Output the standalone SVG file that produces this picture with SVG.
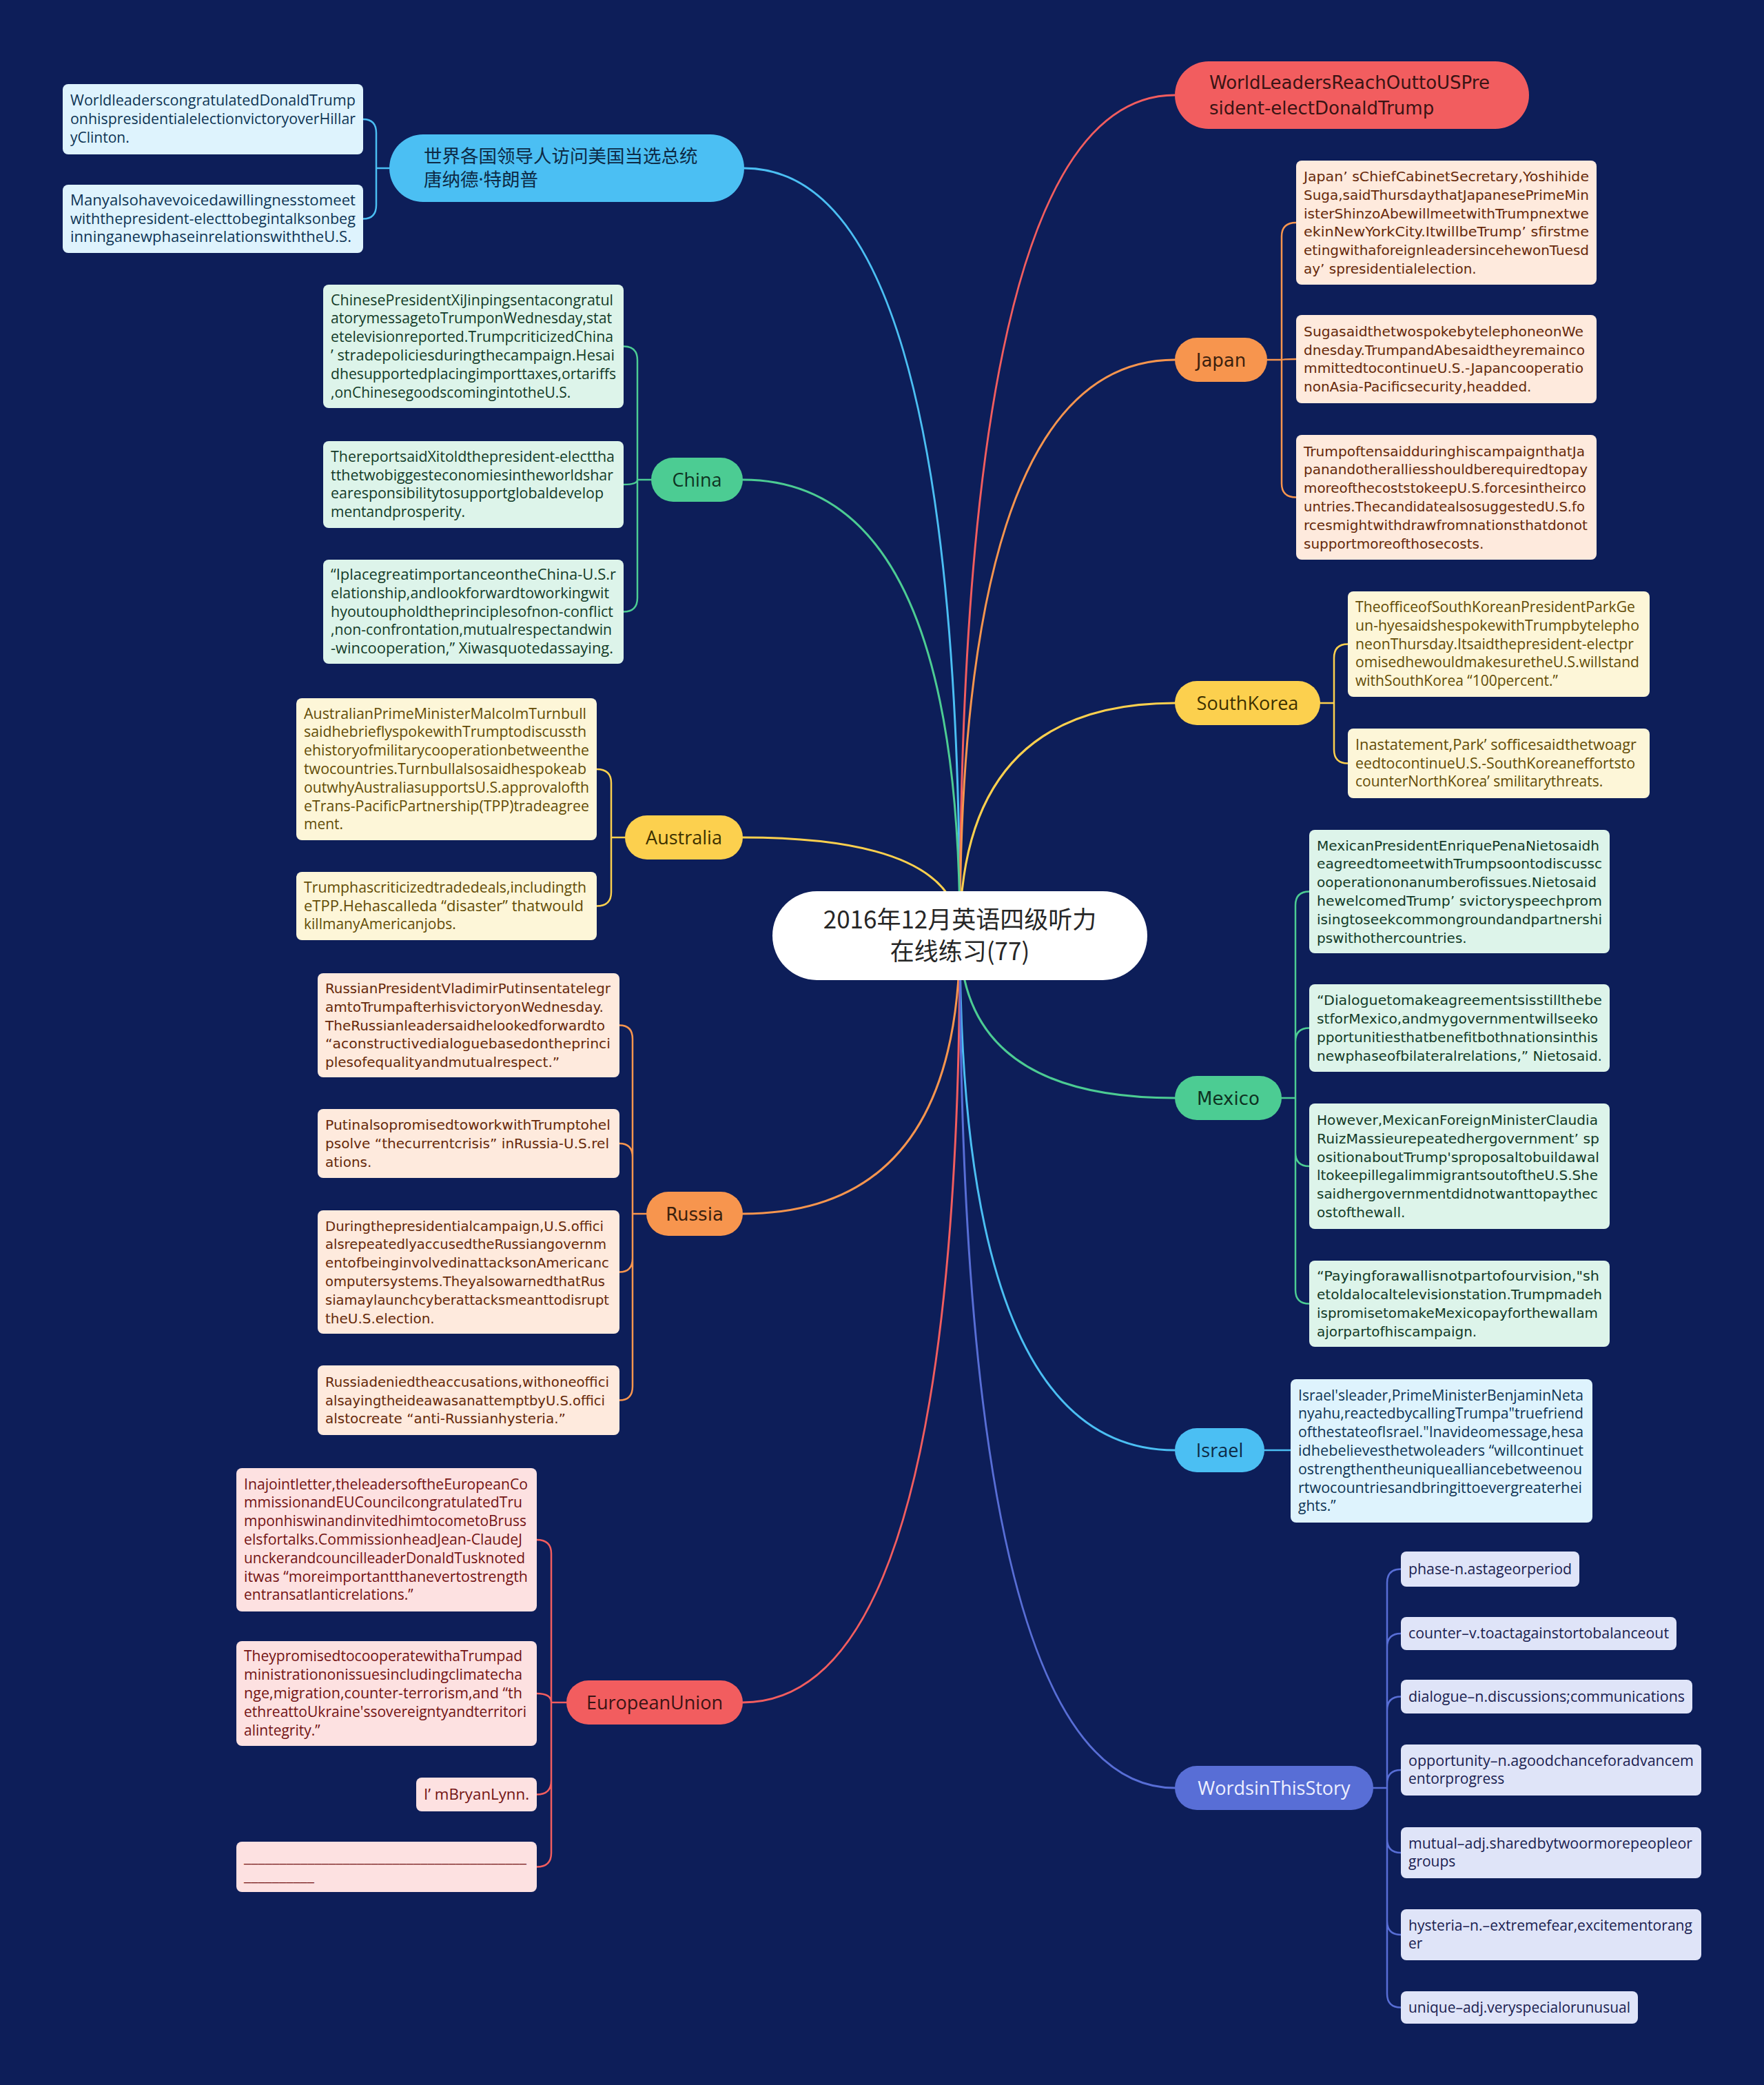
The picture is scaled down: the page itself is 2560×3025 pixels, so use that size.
<svg xmlns="http://www.w3.org/2000/svg" width="2560" height="3025" viewBox="0 0 2560 3025">
<style>
.bg{fill:#0d1e59}
.cn{fill:none;stroke-width:3;stroke-linecap:round}
.lc{fill:none;stroke-width:2.5;stroke-linecap:round;stroke-linejoin:round}
.tw{font-family:"DejaVu Sans","Noto Sans",sans-serif;font-size:20px}
.tn{font-family:"Open Sans","Noto Sans",sans-serif;font-size:21px}
.lw{font-family:"DejaVu Sans","Noto Sans",sans-serif;font-size:26px}
.ln{font-family:"Open Sans","Noto Sans",sans-serif;font-size:27px}
.cjk{font-family:"Noto Sans CJK SC","Noto Sans",sans-serif}
.mid{text-anchor:middle}
.sb{stroke:#4bbff3}.sr{stroke:#f25d5f}.so{stroke:#f7954e}.sg{stroke:#4ccc93}.sy{stroke:#fcd04e}.si{stroke:#586ed6}
.nb{fill:#4bbff3}.nr{fill:#f25d5f}.no{fill:#f7954e}.ng{fill:#4ccc93}.ny{fill:#fcd04e}.ni{fill:#586ed6}
.xb{fill:#0d2a45}.xr{fill:#3a1414}.xo{fill:#3b210e}.xg{fill:#0e3322}.xy{fill:#3d3000}.xi{fill:#eef0ff}
.fb{fill:#def3fd}.fg{fill:#ddf4ea}.fy{fill:#fdf6d8}.fo{fill:#feeadd}.fr{fill:#fde1e1}.fi{fill:#dfe4f8}
.cb{fill:#0e3555}.cg{fill:#133b28}.cy{fill:#634c06}.co{fill:#66290a}.cr{fill:#731313}.ci{fill:#1a2150}
</style>
<rect class="bg" x="0" y="0" width="2560" height="3025"/>

<g id="connectors">
<path class="cn sb" d="M1393 1357 Q1393 244 1080 244"/>
<path class="cn sr" d="M1393 1357 Q1393 138 1705 138"/>
<path class="cn so" d="M1393 1357 Q1393 522 1705 522"/>
<path class="cn sg" d="M1393 1357 Q1393 696 1078 696"/>
<path class="cn sy" d="M1393 1357 Q1393 1020 1705 1020"/>
<path class="cn sy" d="M1393 1357 Q1393 1215 1078 1215"/>
<path class="cn sg" d="M1393 1357 Q1393 1593 1705 1593"/>
<path class="cn so" d="M1393 1357 Q1393 1761 1078 1761"/>
<path class="cn sb" d="M1393 1357 Q1393 2104 1705 2104"/>
<path class="cn sr" d="M1393 1357 Q1393 2470 1078 2470"/>
<path class="cn si" d="M1393 1357 Q1393 2594 1705 2594"/>

<path class="lc sb" d="M565 244 H546 M546 244 V193 Q546 173 527 173 M546 244 V297.5 Q546 317.5 527 317.5"/>
<path class="lc sg" d="M945 696 H925 M925 696 V522.5 Q925 502.5 905 502.5 M925 696 Q925 703 905 703 M925 696 V867.5 Q925 887.5 905 887.5"/>
<path class="lc sy" d="M907 1215 H887 M887 1215 V1136 Q887 1116 866 1116 M887 1215 V1294.5 Q887 1314.5 866 1314.5"/>
<path class="lc so" d="M938 1761 H918 M918 1761 V1507.5 Q918 1487.5 899 1487.5 M918 1761 V1679 Q918 1659 899 1659 M918 1761 V1825.5 Q918 1845.5 899 1845.5 M918 1761 V2011.5 Q918 2031.5 899 2031.5"/>
<path class="lc sr" d="M822 2470 H800 M800 2470 V2254 Q800 2234 779 2234 M800 2470 Q800 2457 779 2457 M800 2470 V2583.5 Q800 2603.5 779 2603.5 M800 2470 V2688.5 Q800 2708.5 779 2708.5"/>
<path class="lc so" d="M1839 522 H1860 M1860 522 V343 Q1860 323 1881 323 M1860 522 Q1860 521 1881 521 M1860 522 V701.5 Q1860 721.5 1881 721.5"/>
<path class="lc sy" d="M1916 1020 H1936 M1936 1020 V954.5 Q1936 934.5 1956 934.5 M1936 1020 V1087.5 Q1936 1107.5 1956 1107.5"/>
<path class="lc sg" d="M1860 1593 H1880 M1880 1593 V1313.5 Q1880 1293.5 1900 1293.5 M1880 1593 V1511.5 Q1880 1491.5 1900 1491.5 M1880 1593 V1672 Q1880 1692 1900 1692 M1880 1593 V1871.5 Q1880 1891.5 1900 1891.5"/>
<path class="lc sb" d="M1835 2104 H1873"/>
<path class="lc si" d="M1993 2594 H2013 M2013 2594 V2296.5 Q2013 2276.5 2033 2276.5 M2013 2594 V2390 Q2013 2370 2033 2370 M2013 2594 V2481.5 Q2013 2461.5 2033 2461.5 M2013 2594 V2588 Q2013 2568 2033 2568 M2013 2594 V2668 Q2013 2688 2033 2688 M2013 2594 V2787 Q2013 2807 2033 2807 M2013 2594 V2892.5 Q2013 2912.5 2033 2912.5"/>
</g>

<g id="center">
<rect x="1121" y="1293" width="544" height="129" rx="64.5" fill="#ffffff"/>
<text class="cjk mid" x="1393" y="1347" font-size="35" fill="#262626">2016年12月英语四级听力</text>
<text class="cjk mid" x="1393" y="1393" font-size="35" fill="#262626">在线练习(77)</text>
</g>

<g id="n-world-cn">
<rect class="nb" x="565" y="195" width="515" height="98" rx="49"/>
<text class="cjk xb" x="615" y="236" font-size="26.5">世界各国领导人访问美国当选总统</text>
<text class="cjk xb" x="615" y="270" font-size="26.5">唐纳德<tspan font-family="Noto Sans, sans-serif">·</tspan>特朗普</text>
</g>
<g id="l-world-1">
<rect class="fb" x="91" y="122" width="436" height="102" rx="8"/>
<text class="tn cb" x="102" y="153.2" textLength="414" lengthAdjust="spacingAndGlyphs">WorldleaderscongratulatedDonaldTrump</text>
<text class="tn cb" x="102" y="180" textLength="414" lengthAdjust="spacingAndGlyphs">onhispresidentialelectionvictoryoverHillar</text>
<text class="tn cb" x="102" y="206.8">yClinton.</text>
</g>
<g id="l-world-2">
<rect class="fb" x="91" y="268" width="436" height="99" rx="8"/>
<text class="tn cb" x="102" y="297.7" textLength="414" lengthAdjust="spacingAndGlyphs">Manyalsohavevoicedawillingnesstomeet</text>
<text class="tn cb" x="102" y="324.5" textLength="414" lengthAdjust="spacingAndGlyphs">withthepresident-electtobegintalksonbeg</text>
<text class="tn cb" x="102" y="351.3" textLength="408" lengthAdjust="spacingAndGlyphs">inninganewphaseinrelationswiththeU.S.</text>
</g>

<g id="n-title">
<rect class="nr" x="1705" y="89" width="514" height="98" rx="49"/>
<text class="lw xr" x="1755" y="129">WorldLeadersReachOuttoUSPre</text>
<text class="lw xr" x="1755" y="166">sident-electDonaldTrump</text>
</g>

<g id="n-japan">
<rect class="no" x="1705" y="490" width="134" height="64" rx="32"/>
<text class="lw xo mid" x="1772" y="531.5">Japan</text>
</g>
<g id="l-japan-1">
<rect class="fo" x="1881" y="233" width="436" height="180" rx="8"/>
<text class="tw co" x="1892" y="263" textLength="414" lengthAdjust="spacingAndGlyphs">Japan’ sChiefCabinetSecretary,Yoshihide</text>
<text class="tw co" x="1892" y="289.8" textLength="414" lengthAdjust="spacingAndGlyphs">Suga,saidThursdaythatJapanesePrimeMin</text>
<text class="tw co" x="1892" y="316.6" textLength="414" lengthAdjust="spacingAndGlyphs">isterShinzoAbewillmeetwithTrumpnextwe</text>
<text class="tw co" x="1892" y="343.4" textLength="414" lengthAdjust="spacingAndGlyphs">ekinNewYorkCity.ItwillbeTrump’ sfirstme</text>
<text class="tw co" x="1892" y="370.2" textLength="414" lengthAdjust="spacingAndGlyphs">etingwithaforeignleadersincehewonTuesd</text>
<text class="tw co" x="1892" y="397">ay’ spresidentialelection.</text>
</g>
<g id="l-japan-2">
<rect class="fo" x="1881" y="457" width="436" height="128" rx="8"/>
<text class="tw co" x="1892" y="487.8" textLength="406" lengthAdjust="spacingAndGlyphs">SugasaidthetwospokebytelephoneonWe</text>
<text class="tw co" x="1892" y="514.6" textLength="408" lengthAdjust="spacingAndGlyphs">dnesday.TrumpandAbesaidtheyremainco</text>
<text class="tw co" x="1892" y="541.4" textLength="406" lengthAdjust="spacingAndGlyphs">mmittedtocontinueU.S.-Japancooperatio</text>
<text class="tw co" x="1892" y="568.2">nonAsia-Pacificsecurity,headded.</text>
</g>
<g id="l-japan-3">
<rect class="fo" x="1881" y="631" width="436" height="181" rx="8"/>
<text class="tw co" x="1892" y="661.5" textLength="408" lengthAdjust="spacingAndGlyphs">TrumpoftensaidduringhiscampaignthatJa</text>
<text class="tw co" x="1892" y="688.3" textLength="412" lengthAdjust="spacingAndGlyphs">panandotheralliesshouldberequiredtopay</text>
<text class="tw co" x="1892" y="715.1" textLength="410" lengthAdjust="spacingAndGlyphs">moreofthecoststokeepU.S.forcesintheirco</text>
<text class="tw co" x="1892" y="741.9" textLength="408" lengthAdjust="spacingAndGlyphs">untries.ThecandidatealsosuggestedU.S.fo</text>
<text class="tw co" x="1892" y="768.7" textLength="412" lengthAdjust="spacingAndGlyphs">rcesmightwithdrawfromnationsthatdonot</text>
<text class="tw co" x="1892" y="795.5">supportmoreofthosecosts.</text>
</g>

<g id="n-china">
<rect class="ng" x="945" y="664" width="133" height="64" rx="32"/>
<text class="ln xg mid" x="1011.5" y="705.5">China</text>
</g>
<g id="l-china-1">
<rect class="fg" x="469" y="413" width="436" height="179" rx="8"/>
<text class="tn cg" x="480" y="442.5" textLength="410" lengthAdjust="spacingAndGlyphs">ChinesePresidentXiJinpingsentacongratul</text>
<text class="tn cg" x="480" y="469.3" textLength="408" lengthAdjust="spacingAndGlyphs">atorymessagetoTrumponWednesday,stat</text>
<text class="tn cg" x="480" y="496.1" textLength="410" lengthAdjust="spacingAndGlyphs">etelevisionreported.TrumpcriticizedChina</text>
<text class="tn cg" x="480" y="522.9" textLength="412" lengthAdjust="spacingAndGlyphs">’ stradepoliciesduringthecampaign.Hesai</text>
<text class="tn cg" x="480" y="549.7" textLength="414" lengthAdjust="spacingAndGlyphs">dhesupportedplacingimporttaxes,ortariffs</text>
<text class="tn cg" x="480" y="576.5">,onChinesegoodscomingintotheU.S.</text>
</g>
<g id="l-china-2">
<rect class="fg" x="469" y="640" width="436" height="126" rx="8"/>
<text class="tn cg" x="480" y="669.8" textLength="412" lengthAdjust="spacingAndGlyphs">ThereportsaidXitoldthepresident-electtha</text>
<text class="tn cg" x="480" y="696.6" textLength="410" lengthAdjust="spacingAndGlyphs">tthetwobiggesteconomiesintheworldshar</text>
<text class="tn cg" x="480" y="723.4" textLength="396" lengthAdjust="spacingAndGlyphs">earesponsibilitytosupportglobaldevelop</text>
<text class="tn cg" x="480" y="750.2">mentandprosperity.</text>
</g>
<g id="l-china-3">
<rect class="fg" x="469" y="812" width="436" height="151" rx="8"/>
<text class="tn cg" x="480" y="840.9" textLength="414" lengthAdjust="spacingAndGlyphs">“IplacegreatimportanceontheChina-U.S.r</text>
<text class="tn cg" x="480" y="867.7" textLength="404" lengthAdjust="spacingAndGlyphs">elationship,andlookforwardtoworkingwit</text>
<text class="tn cg" x="480" y="894.5" textLength="410" lengthAdjust="spacingAndGlyphs">hyoutoupholdtheprinciplesofnon-conflict</text>
<text class="tn cg" x="480" y="921.3" textLength="408" lengthAdjust="spacingAndGlyphs">,non-confrontation,mutualrespectandwin</text>
<text class="tn cg" x="480" y="948.1" textLength="410" lengthAdjust="spacingAndGlyphs">-wincooperation,” Xiwasquotedassaying.</text>
</g>

<g id="n-southkorea">
<rect class="ny" x="1705" y="988" width="211" height="64" rx="32"/>
<text class="ln xy mid" x="1810.5" y="1029.5">SouthKorea</text>
</g>
<g id="l-sk-1">
<rect class="fy" x="1956" y="858" width="438" height="153" rx="8"/>
<text class="tn cy" x="1967" y="887.9" textLength="406" lengthAdjust="spacingAndGlyphs">TheofficeofSouthKoreanPresidentParkGe</text>
<text class="tn cy" x="1967" y="914.7" textLength="412" lengthAdjust="spacingAndGlyphs">un-hyesaidshespokewithTrumpbytelepho</text>
<text class="tn cy" x="1967" y="941.5" textLength="404" lengthAdjust="spacingAndGlyphs">neonThursday.Itsaidthepresident-electpr</text>
<text class="tn cy" x="1967" y="968.3" textLength="412" lengthAdjust="spacingAndGlyphs">omisedhewouldmakesuretheU.S.willstand</text>
<text class="tn cy" x="1967" y="995.1">withSouthKorea “100percent.”</text>
</g>
<g id="l-sk-2">
<rect class="fy" x="1956" y="1057" width="438" height="101" rx="8"/>
<text class="tn cy" x="1967" y="1087.7" textLength="408" lengthAdjust="spacingAndGlyphs">Inastatement,Park’ sofficesaidthetwoagr</text>
<text class="tn cy" x="1967" y="1114.5" textLength="406" lengthAdjust="spacingAndGlyphs">eedtocontinueU.S.-SouthKoreaneffortsto</text>
<text class="tn cy" x="1967" y="1141.3">counterNorthKorea’ smilitarythreats.</text>
</g>

<g id="n-australia">
<rect class="ny" x="907" y="1183" width="171" height="64" rx="32"/>
<text class="ln xy mid" x="992.5" y="1224.5">Australia</text>
</g>
<g id="l-aus-1">
<rect class="fy" x="430" y="1013" width="436" height="206" rx="8"/>
<text class="tn cy" x="441" y="1042.6" textLength="410" lengthAdjust="spacingAndGlyphs">AustralianPrimeMinisterMalcolmTurnbull</text>
<text class="tn cy" x="441" y="1069.4" textLength="410" lengthAdjust="spacingAndGlyphs">saidhebrieflyspokewithTrumptodiscussth</text>
<text class="tn cy" x="441" y="1096.2" textLength="414" lengthAdjust="spacingAndGlyphs">ehistoryofmilitarycooperationbetweenthe</text>
<text class="tn cy" x="441" y="1123" textLength="410" lengthAdjust="spacingAndGlyphs">twocountries.Turnbullalsosaidhespokeab</text>
<text class="tn cy" x="441" y="1149.8" textLength="414" lengthAdjust="spacingAndGlyphs">outwhyAustraliasupportsU.S.approvalofth</text>
<text class="tn cy" x="441" y="1176.6" textLength="414" lengthAdjust="spacingAndGlyphs">eTrans-PacificPartnership(TPP)tradeagree</text>
<text class="tn cy" x="441" y="1203.4">ment.</text>
</g>
<g id="l-aus-2">
<rect class="fy" x="430" y="1265" width="436" height="99" rx="8"/>
<text class="tn cy" x="441" y="1294.7" textLength="410" lengthAdjust="spacingAndGlyphs">Trumphascriticizedtradedeals,includingth</text>
<text class="tn cy" x="441" y="1321.5" textLength="406" lengthAdjust="spacingAndGlyphs">eTPP.Hehascalleda “disaster” thatwould</text>
<text class="tn cy" x="441" y="1348.3">killmanyAmericanjobs.</text>
</g>

<g id="n-mexico">
<rect class="ng" x="1705" y="1561" width="155" height="64" rx="32"/>
<text class="lw xg mid" x="1782.5" y="1602.5">Mexico</text>
</g>
<g id="l-mex-1">
<rect class="fg" x="1900" y="1204" width="436" height="179" rx="8"/>
<text class="tw cg" x="1911" y="1233.5" textLength="410" lengthAdjust="spacingAndGlyphs">MexicanPresidentEnriquePenaNietosaidh</text>
<text class="tw cg" x="1911" y="1260.3" textLength="414" lengthAdjust="spacingAndGlyphs">eagreedtomeetwithTrumpsoontodiscussc</text>
<text class="tw cg" x="1911" y="1287.1" textLength="406" lengthAdjust="spacingAndGlyphs">ooperationonanumberofissues.Nietosaid</text>
<text class="tw cg" x="1911" y="1313.9" textLength="414" lengthAdjust="spacingAndGlyphs">hewelcomedTrump’ svictoryspeechprom</text>
<text class="tw cg" x="1911" y="1340.7" textLength="414" lengthAdjust="spacingAndGlyphs">isingtoseekcommongroundandpartnershi</text>
<text class="tw cg" x="1911" y="1367.5">pswithothercountries.</text>
</g>
<g id="l-mex-2">
<rect class="fg" x="1900" y="1428" width="436" height="127" rx="8"/>
<text class="tw cg" x="1911" y="1458.3" textLength="414" lengthAdjust="spacingAndGlyphs">“Dialoguetomakeagreementsisstillthebe</text>
<text class="tw cg" x="1911" y="1485.1" textLength="408" lengthAdjust="spacingAndGlyphs">stforMexico,andmygovernmentwillseeko</text>
<text class="tw cg" x="1911" y="1511.9" textLength="408" lengthAdjust="spacingAndGlyphs">pportunitiesthatbenefitbothnationsinthis</text>
<text class="tw cg" x="1911" y="1538.7" textLength="414" lengthAdjust="spacingAndGlyphs">newphaseofbilateralrelations,” Nietosaid.</text>
</g>
<g id="l-mex-3">
<rect class="fg" x="1900" y="1601" width="436" height="182" rx="8"/>
<text class="tw cg" x="1911" y="1632" textLength="408" lengthAdjust="spacingAndGlyphs">However,MexicanForeignMinisterClaudia</text>
<text class="tw cg" x="1911" y="1658.8" textLength="410" lengthAdjust="spacingAndGlyphs">RuizMassieurepeatedhergovernment’ sp</text>
<text class="tw cg" x="1911" y="1685.6" textLength="410" lengthAdjust="spacingAndGlyphs">ositionaboutTrump'sproposaltobuildawal</text>
<text class="tw cg" x="1911" y="1712.4" textLength="408" lengthAdjust="spacingAndGlyphs">ltokeepillegalimmigrantsoutoftheU.S.She</text>
<text class="tw cg" x="1911" y="1739.2" textLength="408" lengthAdjust="spacingAndGlyphs">saidhergovernmentdidnotwanttopaythec</text>
<text class="tw cg" x="1911" y="1766">ostofthewall.</text>
</g>
<g id="l-mex-4">
<rect class="fg" x="1900" y="1829" width="436" height="125" rx="8"/>
<text class="tw cg" x="1911" y="1858.3" textLength="410" lengthAdjust="spacingAndGlyphs">“Payingforawallisnotpartofourvision,"sh</text>
<text class="tw cg" x="1911" y="1885.1" textLength="414" lengthAdjust="spacingAndGlyphs">etoldalocaltelevisionstation.Trumpmadeh</text>
<text class="tw cg" x="1911" y="1911.9" textLength="408" lengthAdjust="spacingAndGlyphs">ispromisetomakeMexicopayforthewallam</text>
<text class="tw cg" x="1911" y="1938.7">ajorpartofhiscampaign.</text>
</g>

<g id="n-russia">
<rect class="no" x="938" y="1729" width="140" height="64" rx="32"/>
<text class="lw xo mid" x="1008" y="1770.5">Russia</text>
</g>
<g id="l-rus-1">
<rect class="fo" x="461" y="1412" width="438" height="151" rx="8"/>
<text class="tw co" x="472" y="1440.9" textLength="414" lengthAdjust="spacingAndGlyphs">RussianPresidentVladimirPutinsentatelegr</text>
<text class="tw co" x="472" y="1467.7" textLength="404" lengthAdjust="spacingAndGlyphs">amtoTrumpafterhisvictoryonWednesday.</text>
<text class="tw co" x="472" y="1494.5" textLength="406" lengthAdjust="spacingAndGlyphs">TheRussianleadersaidhelookedforwardto</text>
<text class="tw co" x="472" y="1521.3" textLength="414" lengthAdjust="spacingAndGlyphs">“aconstructivedialoguebasedontheprinci</text>
<text class="tw co" x="472" y="1548.1">plesofequalityandmutualrespect.”</text>
</g>
<g id="l-rus-2">
<rect class="fo" x="461" y="1609" width="438" height="100" rx="8"/>
<text class="tw co" x="472" y="1639.2" textLength="414" lengthAdjust="spacingAndGlyphs">PutinalsopromisedtoworkwithTrumptohel</text>
<text class="tw co" x="472" y="1666" textLength="412" lengthAdjust="spacingAndGlyphs">psolve “thecurrentcrisis” inRussia-U.S.rel</text>
<text class="tw co" x="472" y="1692.8">ations.</text>
</g>
<g id="l-rus-3">
<rect class="fo" x="461" y="1756" width="438" height="179" rx="8"/>
<text class="tw co" x="472" y="1785.5" textLength="404" lengthAdjust="spacingAndGlyphs">Duringthepresidentialcampaign,U.S.offici</text>
<text class="tw co" x="472" y="1812.3" textLength="408" lengthAdjust="spacingAndGlyphs">alsrepeatedlyaccusedtheRussiangovernm</text>
<text class="tw co" x="472" y="1839.1" textLength="412" lengthAdjust="spacingAndGlyphs">entofbeinginvolvedinattacksonAmericanc</text>
<text class="tw co" x="472" y="1865.9" textLength="406" lengthAdjust="spacingAndGlyphs">omputersystems.TheyalsowarnedthatRus</text>
<text class="tw co" x="472" y="1892.7" textLength="412" lengthAdjust="spacingAndGlyphs">siamaylaunchcyberattacksmeanttodisrupt</text>
<text class="tw co" x="472" y="1919.5">theU.S.election.</text>
</g>
<g id="l-rus-4">
<rect class="fo" x="461" y="1981" width="438" height="101" rx="8"/>
<text class="tw co" x="472" y="2011.7" textLength="412" lengthAdjust="spacingAndGlyphs">Russiadeniedtheaccusations,withoneoffici</text>
<text class="tw co" x="472" y="2038.5" textLength="406" lengthAdjust="spacingAndGlyphs">alsayingtheideawasanattemptbyU.S.offici</text>
<text class="tw co" x="472" y="2065.3">alstocreate “anti-Russianhysteria.”</text>
</g>

<g id="n-israel">
<rect class="nb" x="1705" y="2072" width="130" height="64" rx="32"/>
<text class="ln xb mid" x="1770" y="2113.5">Israel</text>
</g>
<g id="l-israel">
<rect class="fb" x="1873" y="2001" width="438" height="208" rx="8"/>
<text class="tn cb" x="1884" y="2031.6" textLength="414" lengthAdjust="spacingAndGlyphs">Israel'sleader,PrimeMinisterBenjaminNeta</text>
<text class="tn cb" x="1884" y="2058.4" textLength="414" lengthAdjust="spacingAndGlyphs">nyahu,reactedbycallingTrumpa"truefriend</text>
<text class="tn cb" x="1884" y="2085.2" textLength="414" lengthAdjust="spacingAndGlyphs">ofthestateofIsrael."Inavideomessage,hesa</text>
<text class="tn cb" x="1884" y="2112" textLength="414" lengthAdjust="spacingAndGlyphs">idhebelievesthetwoleaders “willcontinuet</text>
<text class="tn cb" x="1884" y="2138.8" textLength="412" lengthAdjust="spacingAndGlyphs">ostrengthentheuniquealliancebetweenou</text>
<text class="tn cb" x="1884" y="2165.6" textLength="412" lengthAdjust="spacingAndGlyphs">rtwocountriesandbringittoevergreaterhei</text>
<text class="tn cb" x="1884" y="2192.4">ghts.”</text>
</g>

<g id="n-eu">
<rect class="nr" x="822" y="2438" width="256" height="64" rx="32"/>
<text class="ln xr mid" x="950" y="2479.5">EuropeanUnion</text>
</g>
<g id="l-eu-1">
<rect class="fr" x="343" y="2130" width="436" height="208" rx="8"/>
<text class="tn cr" x="354" y="2160.6" textLength="412" lengthAdjust="spacingAndGlyphs">Inajointletter,theleadersoftheEuropeanCo</text>
<text class="tn cr" x="354" y="2187.4" textLength="404" lengthAdjust="spacingAndGlyphs">mmissionandEUCouncilcongratulatedTru</text>
<text class="tn cr" x="354" y="2214.2" textLength="410" lengthAdjust="spacingAndGlyphs">mponhiswinandinvitedhimtocometoBruss</text>
<text class="tn cr" x="354" y="2241" textLength="404" lengthAdjust="spacingAndGlyphs">elsfortalks.CommissionheadJean-ClaudeJ</text>
<text class="tn cr" x="354" y="2267.8" textLength="408" lengthAdjust="spacingAndGlyphs">unckerandcouncilleaderDonaldTusknoted</text>
<text class="tn cr" x="354" y="2294.6" textLength="412" lengthAdjust="spacingAndGlyphs">itwas “moreimportantthanevertostrength</text>
<text class="tn cr" x="354" y="2321.4">entransatlanticrelations.”</text>
</g>
<g id="l-eu-2">
<rect class="fr" x="343" y="2381" width="436" height="152" rx="8"/>
<text class="tn cr" x="354" y="2410.4" textLength="404" lengthAdjust="spacingAndGlyphs">TheypromisedtocooperatewithaTrumpad</text>
<text class="tn cr" x="354" y="2437.2" textLength="404" lengthAdjust="spacingAndGlyphs">ministrationonissuesincludingclimatecha</text>
<text class="tn cr" x="354" y="2464" textLength="404" lengthAdjust="spacingAndGlyphs">nge,migration,counter-terrorism,and “th</text>
<text class="tn cr" x="354" y="2490.8" textLength="410" lengthAdjust="spacingAndGlyphs">ethreattoUkraine'ssovereigntyandterritori</text>
<text class="tn cr" x="354" y="2517.6">alintegrity.”</text>
</g>
<g id="l-eu-3">
<rect class="fr" x="604" y="2579" width="175" height="49" rx="8"/>
<text class="tn cr" x="615" y="2610.5" textLength="153" lengthAdjust="spacingAndGlyphs">I’ mBryanLynn.</text>
</g>
<g id="l-eu-4">
<rect class="fr" x="343" y="2672" width="436" height="73" rx="8"/>
<text class="tn cr" x="354" y="2702.1" textLength="410" lengthAdjust="spacingAndGlyphs">________________________________________</text>
<text class="tn cr" x="354" y="2728.9" textLength="102" lengthAdjust="spacingAndGlyphs">__________</text>
</g>

<g id="n-words">
<rect class="ni" x="1705" y="2562" width="288" height="64" rx="32"/>
<text class="ln xi mid" x="1849" y="2603.5">WordsinThisStory</text>
</g>
<g id="l-w-1">
<rect class="fi" x="2033" y="2251" width="259" height="51" rx="8"/>
<text class="tn ci" x="2044" y="2283.5" textLength="237" lengthAdjust="spacingAndGlyphs">phase-n.astageorperiod</text>
</g>
<g id="l-w-2">
<rect class="fi" x="2033" y="2346" width="400" height="48" rx="8"/>
<text class="tn ci" x="2044" y="2377" textLength="378" lengthAdjust="spacingAndGlyphs">counter–v.toactagainstortobalanceout</text>
</g>
<g id="l-w-3">
<rect class="fi" x="2033" y="2437" width="423" height="49" rx="8"/>
<text class="tn ci" x="2044" y="2468.5" textLength="401" lengthAdjust="spacingAndGlyphs">dialogue–n.discussions;communications</text>
</g>
<g id="l-w-4">
<rect class="fi" x="2033" y="2531" width="436" height="74" rx="8"/>
<text class="tn ci" x="2044" y="2561.6" textLength="414" lengthAdjust="spacingAndGlyphs">opportunity–n.agoodchanceforadvancem</text>
<text class="tn ci" x="2044" y="2588.4">entorprogress</text>
</g>
<g id="l-w-5">
<rect class="fi" x="2033" y="2651" width="436" height="74" rx="8"/>
<text class="tn ci" x="2044" y="2681.6" textLength="412" lengthAdjust="spacingAndGlyphs">mutual–adj.sharedbytwoormorepeopleor</text>
<text class="tn ci" x="2044" y="2708.4">groups</text>
</g>
<g id="l-w-6">
<rect class="fi" x="2033" y="2770" width="436" height="74" rx="8"/>
<text class="tn ci" x="2044" y="2800.6" textLength="412" lengthAdjust="spacingAndGlyphs">hysteria–n.–extremefear,excitementorang</text>
<text class="tn ci" x="2044" y="2827.4">er</text>
</g>
<g id="l-w-7">
<rect class="fi" x="2033" y="2889" width="344" height="47" rx="8"/>
<text class="tn ci" x="2044" y="2919.5" textLength="322" lengthAdjust="spacingAndGlyphs">unique–adj.veryspecialorunusual</text>
</g>
</svg>
